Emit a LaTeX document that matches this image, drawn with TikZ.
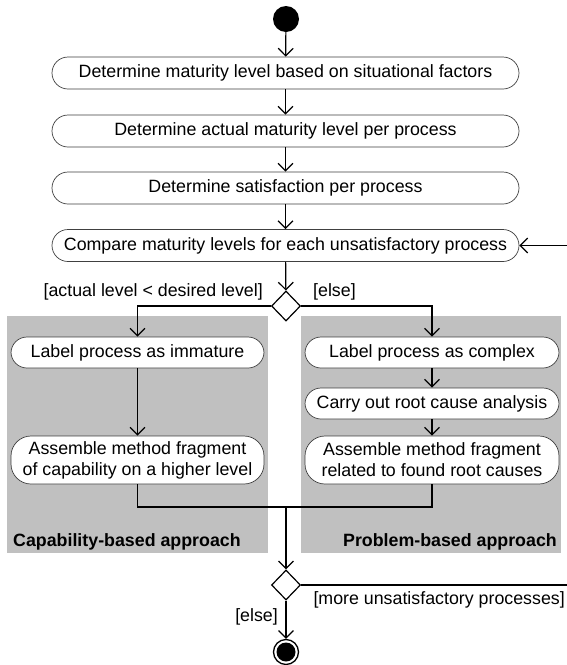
\documentclass[tikz,border=0pt]{standalone}
\usepackage{fontspec}
\setmainfont{Liberation Sans}
\usetikzlibrary{arrows.meta,shapes.geometric}
\definecolor{panelgray}{HTML}{C0C0C0}
\newcommand{\diagfont}{\fontsize{17.8}{21}\selectfont}
\begin{document}
\begin{tikzpicture}[x=1pt,y=-1pt,
  actbox/.style={draw=black!75, line width=0.7pt, fill=white, rounded corners=16pt,
                 inner sep=0pt, align=center, font=\diagfont},
  tallbox/.style={actbox, rounded corners=20pt},
  guard/.style={inner sep=0pt, font=\diagfont},
  lanetitle/.style={inner sep=0pt, font=\diagfont\bfseries},
  flow/.style={line width=1.2pt, -{Straight Barb[length=7.5pt,width=15pt]}},
  plain/.style={line width=1.2pt},
  choice/.style={diamond, draw, line width=1.2pt, fill=white, inner sep=0pt,
                 minimum width=29pt, minimum height=30pt}
]
\useasboundingbox (0,0) rectangle (567,665);
\fill[white] (0,0) rectangle (567,665);

% swimlane panels
\fill[panelgray] (7,316) rectangle (268,553);
\fill[panelgray] (301,316) rectangle (561,553);

% initial node
\node[circle, fill=black, minimum size=26pt, inner sep=0pt] (start) at (286,19) {};

% main sequence
\node[actbox, minimum width=467pt, minimum height=32pt] (b1) at (285.5,73)
  {Determine maturity level based on situational factors};
\node[actbox, minimum width=467pt, minimum height=32pt] (b2) at (285.5,131)
  {Determine actual maturity level per process};
\node[actbox, minimum width=467pt, minimum height=32pt] (b3) at (285.5,188)
  {Determine satisfaction per process};
\node[actbox, minimum width=467pt, minimum height=32pt] (b4) at (285.5,245.5)
  {Compare maturity levels for each unsatisfactory process};

% first decision
\node[choice] (d1) at (286,306) {};
\node[guard, anchor=east] (gl) at (263,292) {[actual level < desired level]};
\node[guard, anchor=west] (gr) at (313,292) {[else]};

% capability-based branch
\node[actbox, minimum width=253pt, minimum height=31pt] (l1) at (137.5,352.5)
  {Label process as immature};
\node[tallbox, minimum width=253pt, minimum height=48pt] (l2) at (137.5,460)
  {Assemble method fragment\\of capability on a higher level};

% problem-based branch
\node[actbox, minimum width=254pt, minimum height=31pt] (r1) at (432,352.5)
  {Label process as complex};
\node[actbox, minimum width=254pt, minimum height=31pt] (r2) at (432,403.5)
  {Carry out root cause analysis};
\node[tallbox, minimum width=254pt, minimum height=48pt] (r3) at (432,460)
  {Assemble method fragment\\related to found root causes};

% lane titles
\node[lanetitle, anchor=west] (capt) at (13,542) {Capability-based approach};
\node[lanetitle, anchor=east] (prob) at (557,542) {Problem-based approach};

% second decision and final node
\node[choice] (d2) at (286,585) {};
\node[guard, anchor=east] (ge) at (278,617) {[else]};
\node[guard, anchor=east] (gm) at (565,600) {[more unsatisfactory processes]};
\node[circle, draw, line width=1.3pt, fill=white, minimum size=25pt, inner sep=0pt] (stop) at (286,652) {};
\fill (stop.center) circle (9.5pt);

% junction points
\coordinate (jl) at (137.5,507);
\coordinate (jm) at (286,507);
\coordinate (jr) at (432,507);
\coordinate (loopA) at (580,585);
\coordinate (loopB) at (580,245.5);

% connectors
\draw[flow] (start) -- (b1);
\draw[flow] (b1) -- (b2);
\draw[flow] (b2) -- (b3);
\draw[flow] (b3) -- (b4);
\draw[flow] (b4) -- (d1);
\draw[flow] (d1.west) -| (l1.north);
\draw[flow] (d1.east) -| (r1.north);
\draw[flow] (l1) -- (l2);
\draw[flow] (r1) -- (r2);
\draw[flow] (r2) -- (r3);
\draw[plain] (l2.south) -- (jl) -- (jr) -- (r3.south);
\draw[flow] (jm) -- (d2.north);
\draw[flow] (d2.south) -- (stop.north);
\draw[flow] (d2.east) -- (loopA) -- (loopB) -- (b4.east);
\end{tikzpicture}
\end{document}
